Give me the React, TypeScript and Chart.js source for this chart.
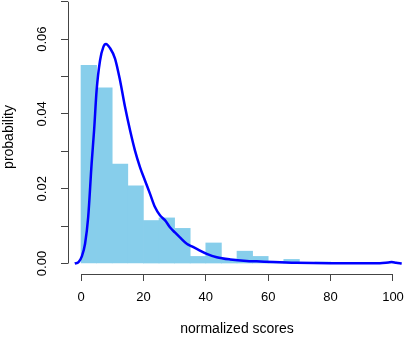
import { useEffect, useRef } from 'react';
import { Chart, registerables } from 'chart.js';

Chart.register(...registerables);

// Histogram bins (start of each 5-wide bin) and their densities
const binWidth = 5;
const binStarts = [0, 5, 10, 15, 20, 25, 30, 35, 40, 45, 50, 55, 60, 65, 70, 75, 80, 85, 90, 95];
const binDensity = [0.0530, 0.0470, 0.0266, 0.0208, 0.0115, 0.0122, 0.0094, 0.0019, 0.0055, 0.0012, 0.0033, 0.0019, 0.0006, 0.0011, 0.0002, 0.0004, 0.0001, 0.0001, 0.0001, 0.0002];

// Kernel density curve
const densityX = [-2.0, -0.8, 0.3, 1.3, 2.3, 3.4, 4.2, 5.0, 6.1, 7.2, 8.0, 9.3, 10.9, 12.5, 14.1, 15.7, 17.3, 18.9, 20.5, 22.1, 23.7, 25.3, 26.9, 28.5, 30.1, 31.7, 33.9, 35.5, 37.1, 40.3, 43.5, 47.8, 53.1, 56.3, 61.6, 69.1, 79.8, 95.8, 98.5, 99.6, 101.0, 102.8];
const densityY = [0.0000, 0.0004, 0.0020, 0.0053, 0.0124, 0.0267, 0.0357, 0.0463, 0.0543, 0.0580, 0.0587, 0.0576, 0.0548, 0.0490, 0.0419, 0.0357, 0.0302, 0.0258, 0.0222, 0.0187, 0.0151, 0.0129, 0.0116, 0.0097, 0.0083, 0.0070, 0.0053, 0.0046, 0.0039, 0.0026, 0.0017, 0.0011, 0.0007, 0.0006, 0.0004, 0.0002, 0.0001, 0.0001, 0.0003, 0.0004, 0.0002, 0.0000];

// Axis ticks
const xTicks = [0, 20, 40, 60, 80, 100];
const yTicks = [0, 0.01, 0.02, 0.03, 0.04, 0.05, 0.06, 0.07];
const yLabeled = [0, 0.02, 0.04, 0.06];

const FONT = "'Liberation Sans', Arial, Helvetica, sans-serif";
const AXIS_COLOR = '#444';

export default function App() {
  const ref = useRef<HTMLCanvasElement>(null);

  useEffect(() => {
    document.body.style.margin = '0';
    const canvas = ref.current;
    if (!canvas) return;

    const axisLines = {
      id: 'axisLines',
      afterDraw(chart: any) {
        const { ctx, scales } = chart;
        const xs = scales.x;
        const ys = scales.y;
        ctx.save();
        ctx.strokeStyle = AXIS_COLOR;
        ctx.lineWidth = 1;
        const yy = Math.round(xs.top - 0.5) + 0.5;
        const xx = Math.round(ys.right - 0.5) + 0.5;
        ctx.beginPath();
        ctx.moveTo(xs.getPixelForValue(xTicks[0]), yy);
        ctx.lineTo(xs.getPixelForValue(xTicks[xTicks.length - 1]), yy);
        ctx.moveTo(xx, ys.getPixelForValue(yTicks[0]));
        ctx.lineTo(xx, ys.getPixelForValue(yTicks[yTicks.length - 1]));
        ctx.stroke();
        ctx.restore();
      },
    };

    const chart = new Chart(canvas, {
      type: 'bar',
      data: {
        datasets: [
          {
            type: 'line',
            data: densityX.map((x, i) => ({ x, y: densityY[i] })),
            borderColor: '#0000ff',
            borderWidth: 2.5,
            pointRadius: 0,
            cubicInterpolationMode: 'monotone',
            fill: false,
            order: 0,
          } as any,
          {
            type: 'bar',
            data: binStarts.map((s, i) => ({ x: s + binWidth / 2, y: binDensity[i] })),
            backgroundColor: '#87ceeb',
            borderWidth: 0,
            barPercentage: 1,
            categoryPercentage: 1,
            grouped: false,
            order: 1,
          } as any,
        ],
      },
      options: {
        responsive: false,
        animation: false,
        events: [],
        layout: { padding: 0, autoPadding: false },
        plugins: {
          legend: { display: false },
          tooltip: { enabled: false },
          title: { display: false },
        },
        scales: {
          x: {
            type: 'linear',
            min: -4.17,
            max: 104.17,
            offset: false,
            afterBuildTicks: (s: any) => {
              s.ticks = xTicks.map((v) => ({ value: v }));
            },
            afterFit: (s: any) => {
              s.height = 74;
              s.paddingLeft = 0;
              s.paddingRight = 0;
              s.paddingTop = 0;
              s.paddingBottom = 0;
            },
            ticks: {
              autoSkip: false,
              maxRotation: 0,
              minRotation: 0,
              padding: 9,
              color: '#000',
              font: { family: FONT, size: 13 },
              callback: (v: any) => String(v),
            },
            grid: {
              display: true,
              drawOnChartArea: false,
              drawTicks: true,
              tickLength: 7,
              color: AXIS_COLOR,
              offset: false,
            },
            border: { display: false },
            title: {
              display: true,
              text: 'normalized scores',
              color: '#000',
              font: { family: FONT, size: 14 },
              padding: { top: 0, bottom: 10 },
            },
          },
          y: {
            type: 'linear',
            min: -0.0028,
            max: 0.07046,
            afterBuildTicks: (s: any) => {
              s.ticks = yTicks.map((v) => ({ value: v }));
            },
            afterFit: (s: any) => {
              s.width = 68;
              s.paddingLeft = 0;
              s.paddingRight = 0;
              s.paddingTop = 0;
              s.paddingBottom = 0;
            },
            ticks: {
              autoSkip: false,
              minRotation: 90,
              maxRotation: 90,
              crossAlign: 'center',
              padding: 6,
              color: '#000',
              font: { family: FONT, size: 13 },
              callback: (v: any) => (yLabeled.includes(v) ? Number(v).toFixed(2) : ''),
            },
            grid: {
              display: true,
              drawOnChartArea: false,
              drawTicks: true,
              tickLength: 7,
              color: AXIS_COLOR,
            },
            border: { display: false },
            title: {
              display: true,
              text: 'probability',
              color: '#000',
              font: { family: FONT, size: 14 },
              padding: { top: 1, bottom: 0 },
            },
          },
        },
      } as any,
      plugins: [axisLines],
    });

    return () => chart.destroy();
  }, []);

  return (
    <div style={{ width: 406, height: 348 }}>
      <canvas ref={ref} width={406} height={348} style={{ display: 'block' }} />
    </div>
  );
}
